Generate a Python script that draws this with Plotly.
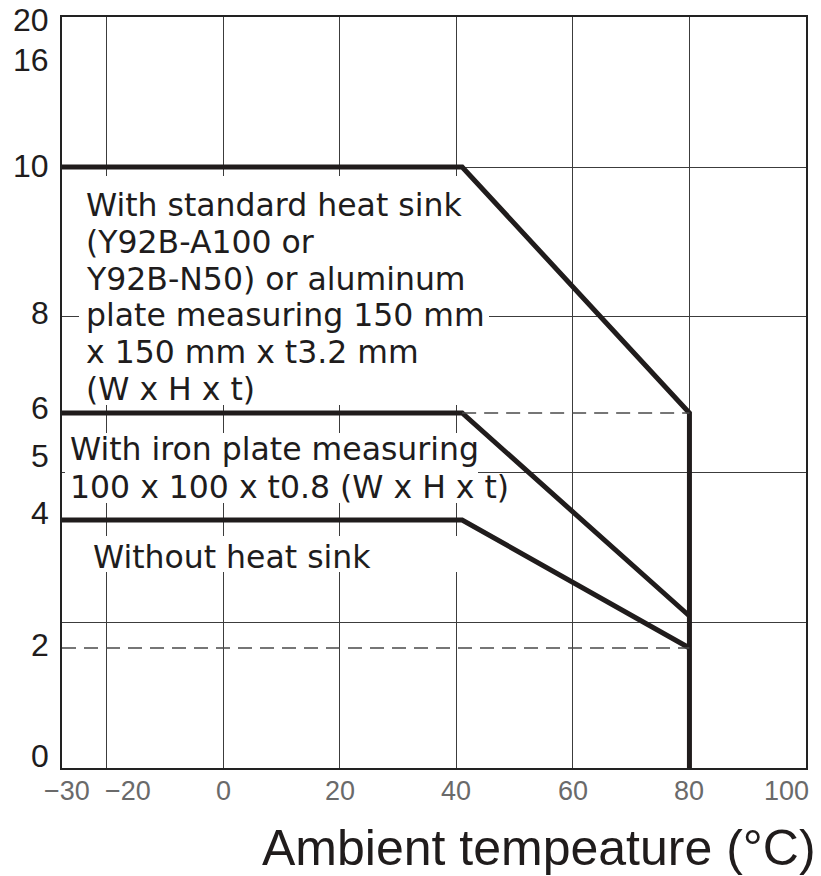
import numpy as np
import plotly.graph_objects as go

# ---------------- data ----------------
TEMP_STANDARD = [-30, 41, 80, 80]
CURRENT_STANDARD = [10, 10, 6, 0]
TEMP_IRON = [-30, 41, 80]
CURRENT_IRON = [6, 6, 2.5]
TEMP_NONE = [-30, 41, 80]
CURRENT_NONE = [4, 4, 2]

GUIDE6_TEMP = [41, 80]
GUIDE6_CURRENT = [6, 6]
GUIDE2_TEMP = [-30, 80]
GUIDE2_CURRENT = [2, 2]

X_TICKS = [-30, -20, 0, 20, 40, 60, 80, 100]
X_TICK_TEXT = ["−30", "−20", "0", "20", "40", "60", "80", "100"]
X_GRID = [-20, 0, 20, 40, 60, 80]

Y_TICKS = [0, 2, 4, 5, 6, 8, 10, 16, 20]
Y_TICK_TEXT = ["0", "2", "4", "5", "6", "8", "10", "16", "20"]
Y_GRID = [2.4, 5, 8, 10]

LABEL_STANDARD = ["With standard heat sink", "(Y92B-A100 or", "Y92B-N50) or aluminum",
                  "plate measuring 150 mm", "x 150 mm x t3.2 mm", "(W x H x t)"]
LABEL_IRON = ["With iron plate measuring", "100 x 100 x t0.8 (W x H x t)"]
LABEL_NONE = ["Without heat sink"]
X_TITLE = "Ambient tempeature (°C)"

# ---------------- hand-drawn (non-uniform) axis scales ----------------
X_SCALE_VAL = [-30, -20, 100]
X_SCALE_POS = [-27.66, -20, 100]
Y_SCALE_VAL = [0, 2, 4, 5, 6, 8, 10, 16, 20]
Y_SCALE_POS = [0, 120, 248, 296, 355, 452, 601, 708, 751]


def xs(v):
    return np.interp(v, X_SCALE_VAL, X_SCALE_POS)


def ys(v):
    return np.interp(v, Y_SCALE_VAL, Y_SCALE_POS)


# ---------------- layout geometry (pixels) ----------------
W, H = 821, 876
PL, PR, PT, PB = 62, 806, 17, 768


def px2paper(px):
    return (px - PL) / (PR - PL)


def py2paper(py):
    return (PB - py) / (PB - PT)


INK = "#201c1c"
GRID = "#3c3c3c"

fig = go.Figure()

line_style = dict(color=INK, width=5)
fig.add_trace(go.Scatter(x=xs(TEMP_STANDARD), y=ys(CURRENT_STANDARD), mode="lines",
                         line=line_style, hoverinfo="skip"))
fig.add_trace(go.Scatter(x=xs(TEMP_IRON), y=ys(CURRENT_IRON), mode="lines",
                         line=line_style, hoverinfo="skip"))
fig.add_trace(go.Scatter(x=xs(TEMP_NONE), y=ys(CURRENT_NONE), mode="lines",
                         line=line_style, hoverinfo="skip"))
dash_style = dict(color="#4a4a4a", width=1.5, dash="14px,8px")
fig.add_trace(go.Scatter(x=xs(GUIDE6_TEMP), y=ys(GUIDE6_CURRENT), mode="lines",
                         line=dash_style, hoverinfo="skip"))
fig.add_trace(go.Scatter(x=xs(GUIDE2_TEMP), y=ys(GUIDE2_CURRENT), mode="lines",
                         line=dash_style, hoverinfo="skip"))

ann = []

# white boxes behind the captions (hide the grid lines there; kept clear of the curves)
MASKS = [(79, 176, 466, 200), (79, 200, 489, 405), (65, 433, 478, 503), (65, 536, 470, 572)]
for x0, y0, x1, y1 in MASKS:
    ann.append(dict(text=" ", xref="paper", yref="paper", x=px2paper(x0), y=py2paper(y0),
                    xanchor="left", yanchor="top", width=x1 - x0, height=y1 - y0,
                    bgcolor="white", borderpad=0, borderwidth=0, showarrow=False,
                    font=dict(size=4)))

body_font = dict(family="DejaVu Sans", size=31.5, color=INK)


def add_lines(lines, left_px, first_center_py, step):
    for i, t in enumerate(lines):
        ann.append(dict(text=t, xref="paper", yref="paper", x=px2paper(left_px),
                        y=py2paper(first_center_py + i * step), xanchor="left",
                        yanchor="middle", showarrow=False, font=body_font))


add_lines(LABEL_STANDARD, 84, 205, 36.8)
add_lines(LABEL_IRON, 68, 449, 38)
add_lines(LABEL_NONE, 91, 557, 0)

# x tick labels
X_NUDGE = {-30: 5, -20: 21, 100: -20}
for v, t in zip(X_TICKS, X_TICK_TEXT):
    ann.append(dict(text=t, xref="x", yref="paper", x=float(xs(v)), y=py2paper(791),
                    xanchor="center", yanchor="middle", xshift=X_NUDGE.get(v, 0),
                    showarrow=False,
                    font=dict(family="Liberation Sans", size=27, color="#6a6a6a")))

# y tick labels
Y_NUDGE = {0: 12, 2: 3, 4: 7, 5: 16, 6: 5, 8: 3, 10: 1, 16: 0, 20: -3}
for v, t in zip(Y_TICKS, Y_TICK_TEXT):
    ann.append(dict(text=t, xref="paper", yref="y", x=px2paper(51), y=float(ys(v)),
                    xanchor="right", yanchor="middle", yshift=Y_NUDGE.get(v, 0),
                    showarrow=False,
                    font=dict(family="Liberation Sans", size=32, color=INK)))

# axis title
ann.append(dict(text=X_TITLE, xref="paper", yref="paper", x=px2paper(260), y=py2paper(848),
                xanchor="left", yanchor="middle", showarrow=False,
                font=dict(family="Liberation Sans", size=50, color=INK)))

fig.update_layout(
    width=W, height=H,
    margin=dict(l=PL, r=W - PR, t=PT, b=H - PB),
    paper_bgcolor="white", plot_bgcolor="white",
    showlegend=False,
    annotations=ann,
    xaxis=dict(range=[X_SCALE_POS[0], X_SCALE_POS[-1]], tickmode="array",
               tickvals=list(xs(X_GRID)), showticklabels=False, ticks="",
               showgrid=True, gridcolor=GRID, gridwidth=1.3, zeroline=False,
               showline=True, mirror=True, linecolor="#222", linewidth=2,
               fixedrange=True),
    yaxis=dict(range=[Y_SCALE_POS[0], Y_SCALE_POS[-1]], tickmode="array",
               tickvals=list(ys(Y_GRID)), showticklabels=False, ticks="",
               showgrid=True, gridcolor=GRID, gridwidth=1.3, zeroline=False,
               showline=True, mirror=True, linecolor="#222", linewidth=2,
               fixedrange=True),
)

fig.write_html(
    "out.html",
    config={"displayModeBar": False},
    post_script="document.body.style.margin='0';document.body.style.overflow='hidden';",
)
